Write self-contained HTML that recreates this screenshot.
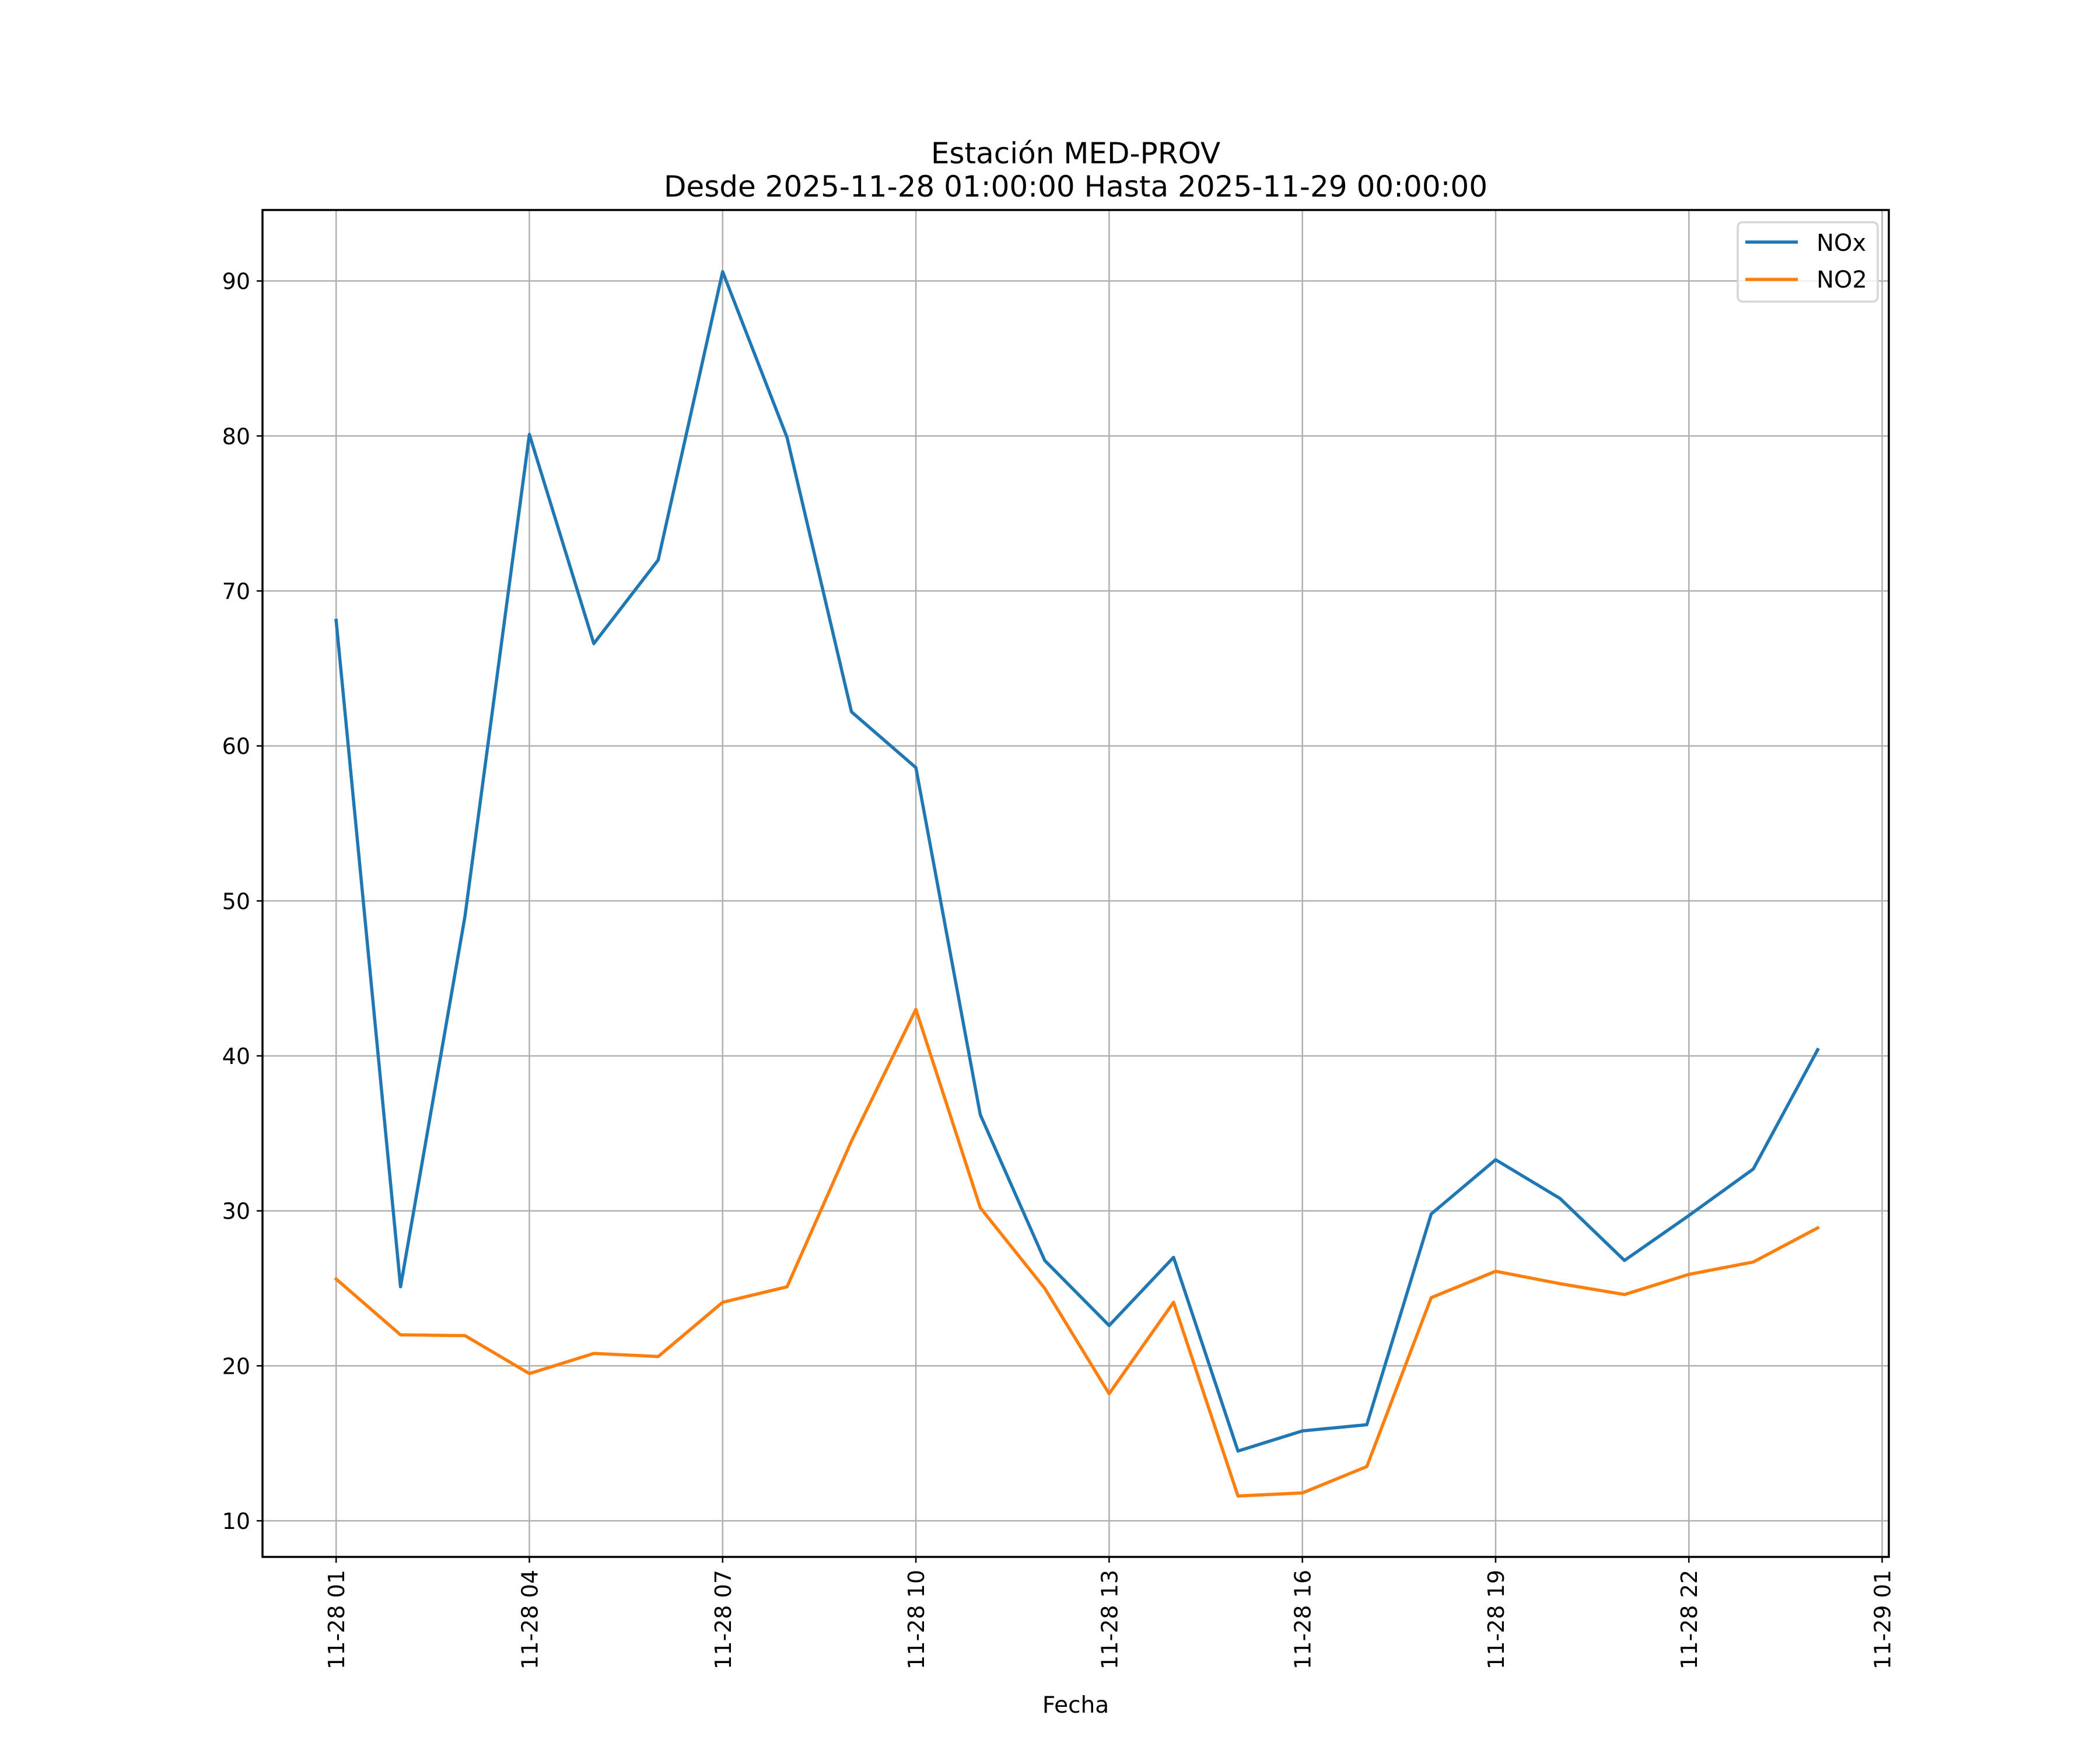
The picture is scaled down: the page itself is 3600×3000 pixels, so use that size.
<!DOCTYPE html>
<html><head><meta charset="utf-8"><style>html,body{margin:0;padding:0;background:#fff}svg{display:block}text{font-family:"DejaVu Sans","Liberation Sans",sans-serif;fill:#000}</style></head>
<body>
<svg id="chart" width="3600" height="3000" viewBox="0 0 3600 3000" xmlns="http://www.w3.org/2000/svg">
<rect width="3600" height="3000" fill="#fff"/>
<text x="1844" y="280" font-size="50" text-anchor="middle">Estación MED-PROV</text>
<text x="1844" y="337" font-size="50" text-anchor="middle">Desde 2025-11-28 01:00:00 Hasta 2025-11-29 00:00:00</text>
<g id="grid"></g>
<g id="series"></g>
<rect x="450" y="360" width="2788" height="2309" fill="none" stroke="#000" stroke-width="3.5"/>
<g id="ticks"></g>
<text x="1844" y="2936" font-size="39" text-anchor="middle">Fecha</text>
<g>
<rect x="2979" y="381" width="240" height="136" rx="8" fill="#fff" fill-opacity="0.8" stroke="#d6d6d6" stroke-width="3.5"/>
<line x1="2992" y1="415" x2="3082" y2="415" stroke="#1f77b4" stroke-width="5.5"/>
<text x="3114" y="430" font-size="40">NOx</text>
<line x1="2992" y1="479" x2="3082" y2="479" stroke="#ff7f0e" stroke-width="5.5"/>
<text x="3114" y="493" font-size="40">NO2</text>
</g>
</svg>
<script>
const hours = [1,2,3,4,5,6,7,8,9,10,11,12,13,14,15,16,17,18,19,20,21,22,23,24];
const noxValues = [68.1,25.1,49,80.1,66.6,72,90.6,79.9,62.2,58.6,36.2,26.8,22.6,27,14.5,15.8,16.2,29.8,33.3,30.8,26.8,29.7,32.7,40.4];
const no2Values = [25.6,22,21.95,19.5,20.8,20.6,24.1,25.1,34.5,43,30.2,25,18.2,24.1,11.6,11.8,13.5,24.4,26.1,25.3,24.6,25.9,26.7,28.9];
const yTicks = [10,20,30,40,50,60,70,80,90];
const xTickHours = [1,4,7,10,13,16,19,22,25];
const xTickLabels = ["11-28 01","11-28 04","11-28 07","11-28 10","11-28 13","11-28 16","11-28 19","11-28 22","11-29 01"];

const L=450,R=3238,T=360,B=2669;
const xMin=-0.143,xMax=25.104,yMin=7.67,yMax=94.58;
const xs=h=>L+(h-xMin)/(xMax-xMin)*(R-L);
const ys=v=>B-(v-yMin)/(yMax-yMin)*(B-T);
const NS="http://www.w3.org/2000/svg";
function mk(tag,attrs,parent,txt){const e=document.createElementNS(NS,tag);for(const k in attrs)e.setAttribute(k,attrs[k]);if(txt!==undefined)e.textContent=txt;parent.appendChild(e);return e;}
const grid=document.getElementById('grid'),ticks=document.getElementById('ticks'),series=document.getElementById('series');
yTicks.forEach(v=>{const y=ys(v);
 const g=mk('line',{x1:L,x2:R,y1:y,y2:y,stroke:'#b0b0b0','stroke-width':2.5},grid);
 
 
 const t=mk('line',{x1:L-10,x2:L,y1:y,y2:y,stroke:'#000','stroke-width':2.5},ticks);
 
 
 const l=mk('text',{x:L-21,y:y+14,'font-size':38,'text-anchor':'end'},ticks,String(v));
 
 
});
xTickHours.forEach((h,i)=>{const x=xs(h);
 const g=mk('line',{x1:x,x2:x,y1:T,y2:B,stroke:'#b0b0b0','stroke-width':2.5},grid);
 
 
 const t=mk('line',{x1:x,x2:x,y1:B,y2:B+10,stroke:'#000','stroke-width':2.5},ticks);
 
 
 const l=mk('text',{x:0,y:0,'font-size':38,'text-anchor':'end',transform:`translate(${x+14},${B+22}) rotate(-90)`},ticks,xTickLabels[i]);
 
 
});
function line(vals,color,name){
 const p=mk('polyline',{points:vals.map((v,i)=>xs(hours[i])+','+ys(v)).join(' '),fill:'none',stroke:color,'stroke-width':5.5,'stroke-linejoin':'round','stroke-linecap':'square'},series);
 
 
}
line(noxValues,'#1f77b4','nox-line');
line(no2Values,'#ff7f0e','no2-line');
</script>
</body></html>
